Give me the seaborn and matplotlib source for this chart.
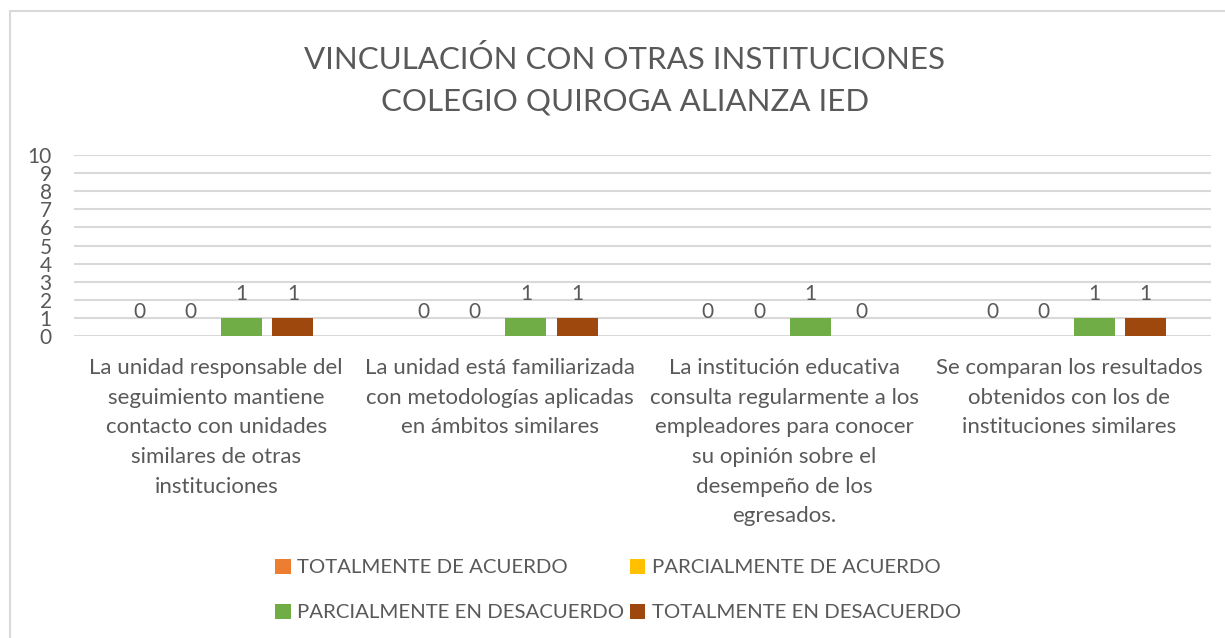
import matplotlib
matplotlib.use("Agg")
import matplotlib.pyplot as plt
import seaborn as sns
import pandas as pd
from matplotlib.patches import Rectangle

# datos
categorias = [
    "La unidad responsable del\nseguimiento mantiene\ncontacto con unidades\nsimilares de otras\ninstituciones",
    "La unidad está familiarizada\ncon metodologías aplicadas\nen ámbitos similares",
    "La institución educativa\nconsulta regularmente a los\nempleadores para conocer\nsu opinión sobre el\ndesempeño de los\negresados.",
    "Se comparan los resultados\nobtenidos con los de\ninstituciones similares",
]
series = ["TOTALMENTE DE ACUERDO", "PARCIALMENTE DE ACUERDO",
          "PARCIALMENTE EN DESACUERDO", "TOTALMENTE EN DESACUERDO"]
totalmente_acuerdo = [0, 0, 0, 0]
parcialmente_acuerdo = [0, 0, 0, 0]
parcialmente_desacuerdo = [1, 1, 1, 1]
totalmente_desacuerdo = [1, 1, 0, 1]
colores = ["#ED7D31", "#FFC000", "#70AD47", "#9E480E"]

df = pd.DataFrame({
    "categoria": categorias * 4,
    "serie": [s for s in series for _ in categorias],
    "valor": totalmente_acuerdo + parcialmente_acuerdo + parcialmente_desacuerdo + totalmente_desacuerdo,
})

sns.set_style("white")
plt.rcParams["font.family"] = ["Lato", "DejaVu Sans"]
gris = "#595959"

fig = plt.figure(figsize=(12.25, 6.38), dpi=100)
ax = fig.add_axes([74 / 1225, 302 / 638, 1137 / 1225, 181 / 638])

sns.barplot(data=df, x="categoria", y="valor", hue="serie", hue_order=series,
            palette=colores, saturation=1, errorbar=None, width=0.72, gap=0.2,
            linewidth=0, ax=ax)

for c in ax.containers:
    ax.bar_label(c, fmt="%d", padding=10, fontsize=15, color=gris)

h, l = ax.get_legend_handles_labels()
ax.get_legend().remove()
orden = [0, 2, 1, 3]
fig.legend([h[i] for i in orden], [l[i] for i in orden], ncol=2,
           loc="center", bbox_to_anchor=(618 / 1225, 1 - 590 / 638),
           frameon=False, fontsize=14.7, labelcolor=gris,
           handlelength=0.75, handleheight=0.75, handletextpad=0.3,
           columnspacing=0.3, labelspacing=1.35)

ax.set_ylim(0, 10)
ax.set_xlim(-0.5, 3.5)
ax.set_yticks(range(0, 11))
ax.yaxis.grid(True, color="#D9D9D9", linewidth=1.5)
ax.set_axisbelow(True)
for s in ax.spines.values():
    s.set_visible(False)
ax.tick_params(axis="y", length=0, pad=16, labelsize=15, labelcolor=gris)
ax.tick_params(axis="x", length=0, pad=16, labelsize=16, labelcolor=gris)
for t in ax.get_xticklabels():
    t.set_linespacing(1.6)
ax.set_xlabel("")
ax.set_ylabel("")

fig.text(625 / 1225, 1 - 80 / 638, "VINCULACIÓN CON OTRAS INSTITUCIONES\nCOLEGIO QUIROGA ALIANZA IED",
         ha="center", va="center", fontsize=22.5, color=gris, linespacing=1.6)

# marco del gráfico
fig.patches.append(Rectangle((10 / 1225, -0.1), 1.2, 1 - 11 / 638 + 0.1,
                             transform=fig.transFigure, fill=False,
                             edgecolor="#D9D9D9", linewidth=1.5))

fig.savefig("out.png", dpi=100)
